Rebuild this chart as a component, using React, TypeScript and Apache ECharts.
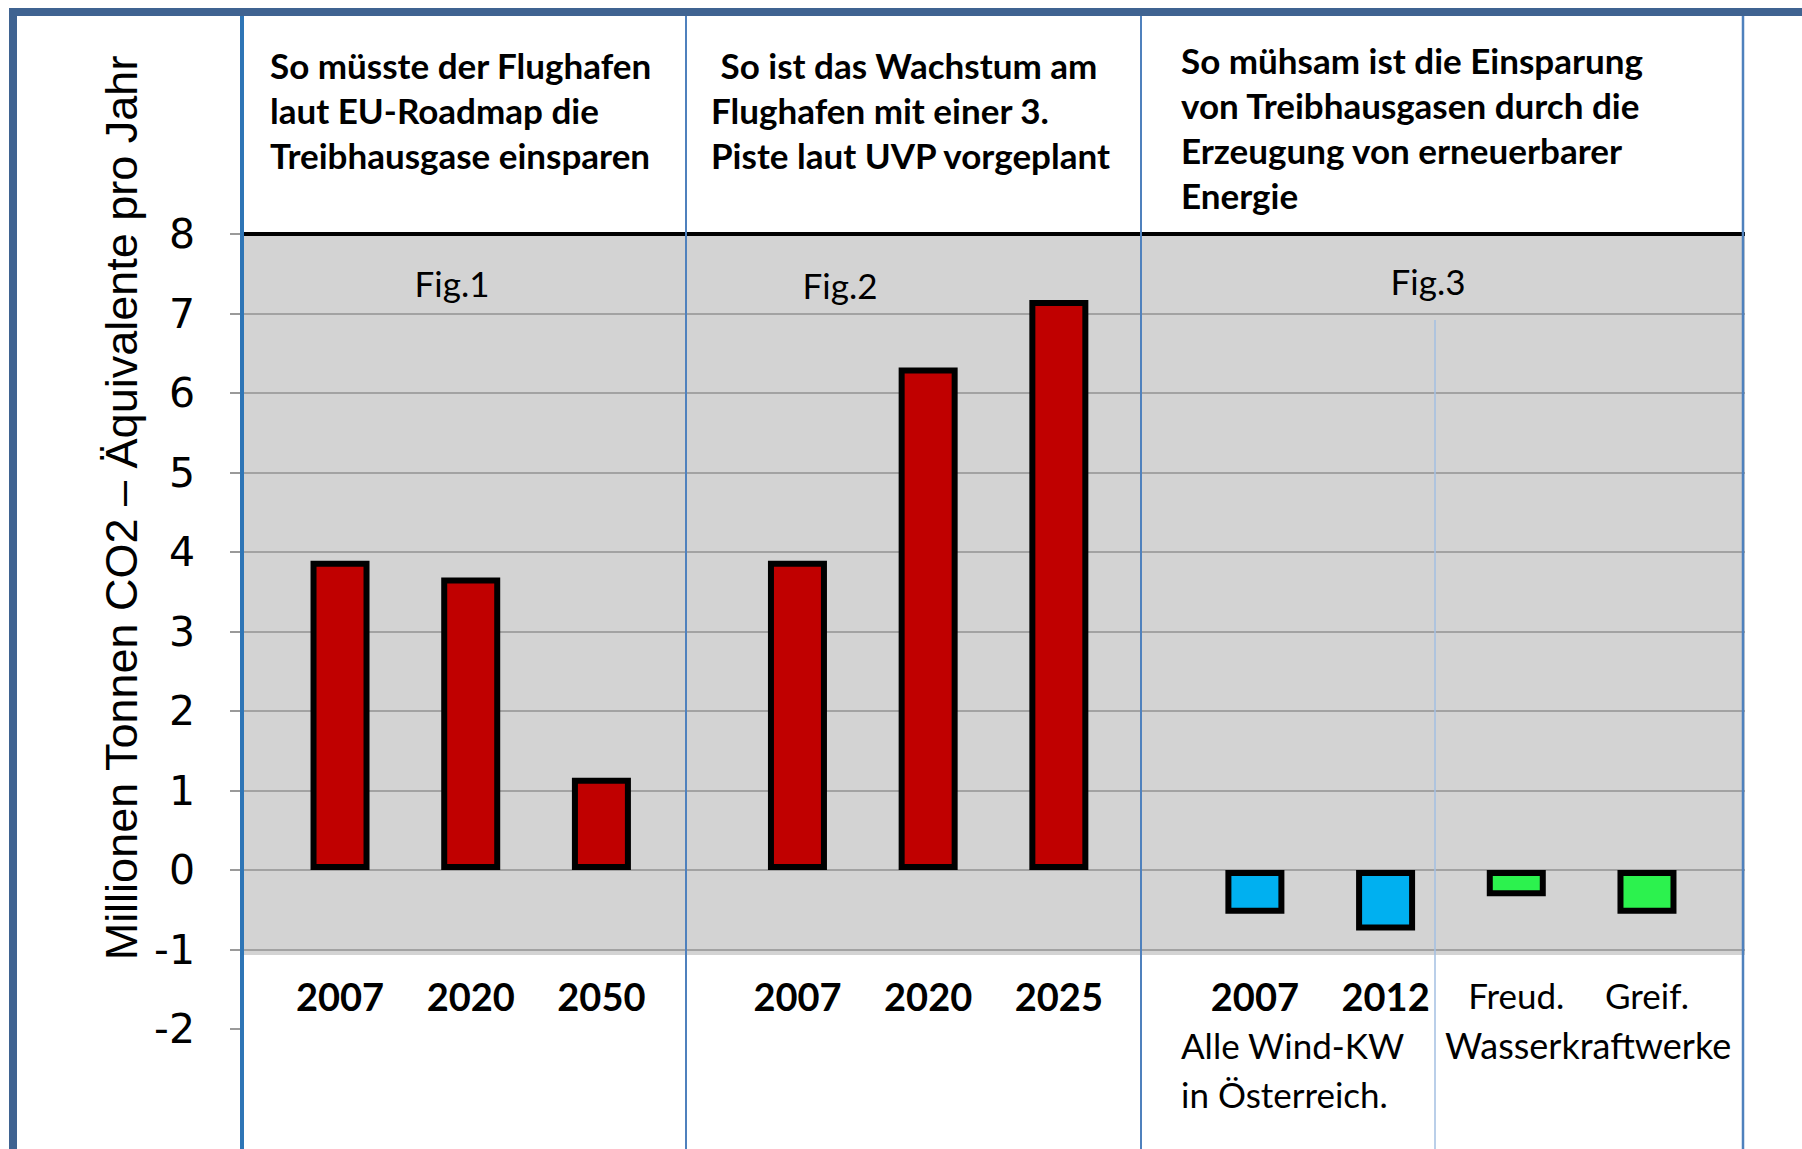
import React, { useEffect, useRef } from "react";
import * as echarts from "echarts";

// ---- data ----
const fig1Labels = ["2007", "2020", "2050"];
const fig1Values = [3.89, 3.68, 1.16];
const fig2Labels = ["2007", "2020", "2025"];
const fig2Values = [3.89, 6.32, 7.17];
const windLabels = ["2007", "2012"];
const windValues = [-0.55, -0.76];
const hydroLabels = ["Freud.", "Greif."];
const hydroValues = [-0.33, -0.55];
const yTicks = [-2, -1, 0, 1, 2, 3, 4, 5, 6, 7, 8];

const yTitle = "Millionen Tonnen CO2 – Äquivalente pro Jahr";
const header1 = "So müsste der Flughafen\nlaut EU-Roadmap die\nTreibhausgase einsparen";
const header2a = " So ist das Wachstum am";
const header2b = "Flughafen mit einer 3.\nPiste laut UVP vorgeplant";
const header3 = "So mühsam ist die Einsparung\nvon Treibhausgasen durch die\nErzeugung von erneuerbarer\nEnergie";
const figNames = ["Fig.1", "Fig.2", "Fig.3"];
const windGroup = "Alle Wind-KW\nin Österreich.";
const hydroGroup = "Wasserkraftwerke";

const GRAY_BOTTOM = -1.07;

export default function App() {
  const ref = useRef<HTMLDivElement>(null);
  useEffect(() => {
    if (!ref.current) return;
    const chart = echarts.init(ref.current, null, { renderer: "svg" });

    const cats: any[] = [];
    const red: (number | null)[] = [];
    const blue: (number | null)[] = [];
    const green: (number | null)[] = [];
    const add = (label: any, r: number | null, b: number | null, g: number | null) => {
      cats.push(label);
      red.push(r);
      blue.push(b);
      green.push(g);
    };
    const gap = () => add("", null, null, null);
    gap();
    fig1Labels.forEach((l, i) => { add(l, fig1Values[i], null, null); gap(); });
    gap();
    fig2Labels.forEach((l, i) => { add(l, fig2Values[i], null, null); gap(); });
    gap();
    windLabels.forEach((l, i) => { add(l, null, windValues[i], null); gap(); });
    hydroLabels.forEach((l, i) => {
      add({ value: l, textStyle: { fontWeight: "normal", fontSize: 35 } }, null, null, hydroValues[i]);
      gap();
    });

    const splitColors = yTicks.map((t) => (t === -2 || t === 8 ? "rgba(0,0,0,0)" : "#a2a2a2"));
    const barBase = {
      type: "bar",
      stack: "all",
      barWidth: 59,
      z: 3,
    };
    const border = { borderColor: "#000", borderWidth: 6 };
    const lato = "Lato, 'Open Sans', sans-serif";

    const vline = (x: number, y1: number, y2: number, color: string, w: number) => ({
      type: "line",
      z: 20,
      silent: true,
      shape: { x1: x, y1, x2: x, y2 },
      style: { stroke: color, lineWidth: w },
    });
    const txt = (x: number, y: number, text: string, size: number, weight: string, align = "left", vAlign = "top", lh?: number, rot = 0, family = lato) => ({
      type: "text",
      z: 25,
      silent: true,
      x,
      y,
      rotation: rot,
      style: {
        text,
        fontSize: size,
        fontFamily: family,
        fontWeight: weight,
        fill: "#000",
        textAlign: align,
        textVerticalAlign: vAlign,
        align,
        verticalAlign: vAlign,
        lineHeight: lh || size * 1.2,
      },
    });

    chart.setOption({
      animation: false,
      backgroundColor: "#ffffff",
      grid: { left: 242, right: 57, top: 234, bottom: 120, containLabel: false },
      xAxis: {
        type: "category",
        data: cats,
        z: 5,
        axisLine: { show: false, onZero: false },
        axisTick: { show: false },
        splitLine: { show: false },
        axisLabel: {
          interval: 0,
          margin: -52,
          color: "#000",
          fontFamily: lato,
          fontWeight: "bold",
          fontSize: 38,
        },
      },
      yAxis: {
        type: "value",
        min: -2,
        max: 8,
        interval: 1,
        z: 1.5,
        axisLine: { show: false },
        axisTick: { show: true, length: 12, lineStyle: { color: "#9a9a9a", width: 2 } },
        axisLabel: { margin: 47, color: "#000", fontFamily: "'DejaVu Sans', sans-serif", fontSize: 41 },
        splitLine: { show: true, lineStyle: { color: splitColors, width: 2 } },
      },
      series: [
        {
          type: "line",
          data: [],
          z: 1,
          silent: true,
          markArea: {
            silent: true,
            itemStyle: { color: "#d3d3d3" },
            data: [[{ yAxis: 8 }, { yAxis: GRAY_BOTTOM }]],
          },
        },
        { ...barBase, name: "Flughafen", data: red, itemStyle: { color: "#c00000", ...border } },
        { ...barBase, name: "Wind", data: blue, itemStyle: { color: "#00b0f0", ...border } },
        {
          ...barBase,
          name: "Wasser",
          data: green,
          itemStyle: { color: "#2cf24e", ...border },
          markLine: {
            silent: true,
            symbol: "none",
            label: { show: false },
            lineStyle: { color: "#000", width: 4, type: "solid" },
            data: [{ yAxis: 8 }],
          },
        },
      ],
      graphic: [
        {
          type: "rect",
          z: 30,
          silent: true,
          shape: { x: 13, y: 12, width: 1900, height: 1300 },
          style: { fill: "none", stroke: "#3f6391", lineWidth: 8 },
        },
        vline(242, 14, 1149, "#2e75b6", 4),
        vline(686, 14, 1149, "#4f81bd", 2),
        vline(1141, 14, 1149, "#4f81bd", 2),
        vline(1743, 14, 1149, "#4f81bd", 2.5),
        vline(1435, 320, 1149, "#a3bfe2", 1.5),
        txt(121, 508, yTitle, 45, "normal", "center", "middle", 45, Math.PI / 2, "'Liberation Sans', Arial, sans-serif"),
        txt(270, 43, header1, 35, "bold", "left", "top", 44.8),
        txt(712, 43, header2a, 35, "bold", "left", "top", 44.8),
        txt(711, 88, header2b, 35, "bold", "left", "top", 44.8),
        txt(1181, 37, header3, 35, "bold", "left", "top", 45.2),
        txt(452, 283, figNames[0], 35, "normal", "center", "middle"),
        txt(840, 285, figNames[1], 35, "normal", "center", "middle"),
        txt(1428, 281, figNames[2], 35, "normal", "center", "middle"),
        txt(1181, 1020, windGroup, 35, "normal", "left", "top", 49),
        txt(1445, 1020, hydroGroup, 36, "normal", "left", "top", 49),
      ],
    });
    return () => chart.dispose();
  }, []);
  return <div ref={ref} style={{ position: "absolute", left: 0, top: 0, width: 1802, height: 1149 }} />;
}
